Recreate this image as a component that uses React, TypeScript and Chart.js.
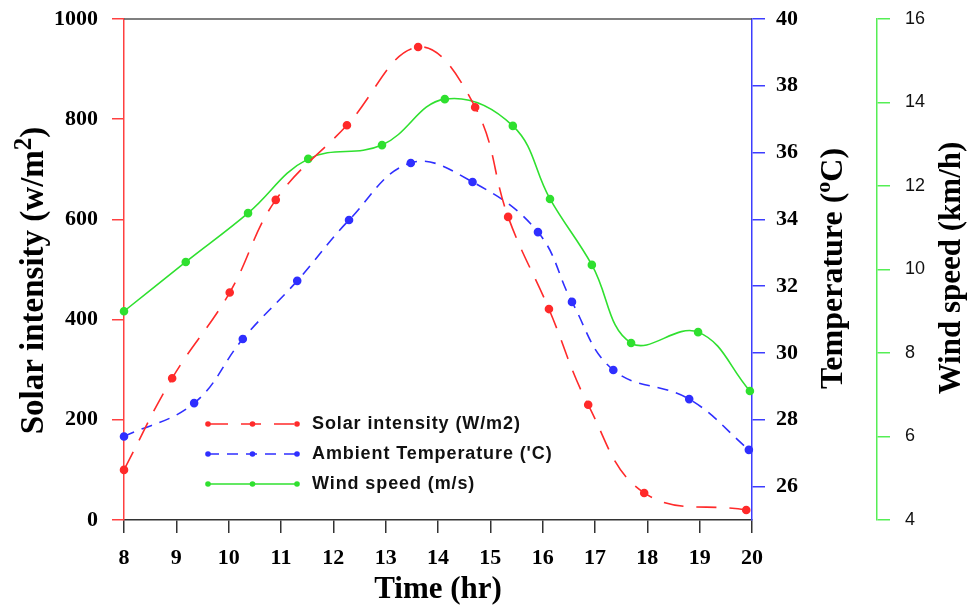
import React, { useEffect, useRef } from "react";
import { Chart, registerables } from "chart.js";

Chart.register(...registerables);

// ---------- data ----------
const solarTimes = [8, 8.92, 10.02, 10.9, 12.26, 13.62, 14.71, 15.34, 16.12, 16.87, 17.94, 19.89];
const solarValues = [100, 283, 454, 639, 788, 944, 824, 605, 421, 230, 54, 20];

const tempTimes = [8, 9.34, 10.27, 11.31, 12.3, 13.48, 14.66, 15.91, 16.56, 17.35, 18.8, 19.94];
const tempValues = [27.5, 28.5, 30.42, 32.16, 33.98, 35.69, 35.12, 33.62, 31.53, 29.49, 28.62, 27.1];

const windTimes = [8, 9.18, 10.37, 11.52, 12.93, 14.13, 15.43, 16.14, 16.94, 17.69, 18.97, 19.96];
const windValues = [9.0, 10.18, 11.35, 12.65, 12.98, 14.08, 13.44, 11.69, 10.11, 8.24, 8.5, 7.09];

const xTickValues = [8, 9, 10, 11, 12, 13, 14, 15, 16, 17, 18, 19, 20];
const solarTickValues = [0, 200, 400, 600, 800, 1000];
const tempTickValues = [26, 28, 30, 32, 34, 36, 38, 40];
const windTickValues = [4, 6, 8, 10, 12, 14, 16];

const legendLabels = ["Solar intensity (W/m2)", "Ambient Temperature ('C)", "Wind speed (m/s)"];

// ---------- styles ----------
const SERIF = "'Times New Roman', 'Liberation Serif', serif";
const SANS = "Arial, 'Liberation Sans', sans-serif";
const RED = "#ff2a2a";
const BLUE = "#2f2fff";
const GREEN = "#2fe02f";
const RED_AXIS = "#ff4040";
const BLUE_AXIS = "#3d3dff";
const GREEN_AXIS = "#55ee55";
const RED_DASH = [20, 13];
const BLUE_DASH = [11, 8];

type Part = { text: string; size: number; rise: number };

function drawParts(ctx: CanvasRenderingContext2D, parts: Part[], startX: number) {
  let x = startX;
  for (const p of parts) {
    ctx.font = `bold ${p.size}px ${SERIF}`;
    ctx.fillText(p.text, x, -p.rise);
    x += ctx.measureText(p.text).width;
  }
}
function partsWidth(ctx: CanvasRenderingContext2D, parts: Part[]) {
  let w = 0;
  for (const p of parts) {
    ctx.font = `bold ${p.size}px ${SERIF}`;
    w += ctx.measureText(p.text).width;
  }
  return w;
}

const overlayPlugin = {
  id: "overlay",
  afterDraw(chart: any) {
    const ctx: CanvasRenderingContext2D = chart.ctx;
    const { left, right, top, bottom } = chart.chartArea;
    const midY = (top + bottom) / 2;
    ctx.save();

    // top frame line
    ctx.strokeStyle = "#555";
    ctx.lineWidth = 1.5;
    ctx.beginPath();
    ctx.moveTo(left, top);
    ctx.lineTo(right, top);
    ctx.stroke();

    // axis titles
    ctx.fillStyle = "#000";
    ctx.textBaseline = "alphabetic";
    ctx.textAlign = "left";
    const vTitle = (parts: Part[], bx: number, cy: number) => {
      const w = partsWidth(ctx, parts);
      ctx.save();
      ctx.translate(bx, cy);
      ctx.rotate(-Math.PI / 2);
      drawParts(ctx, parts, -w / 2);
      ctx.restore();
    };
    vTitle(
      [
        { text: "Solar intensity (w/m", size: 33, rise: 0 },
        { text: "2", size: 25, rise: 12 },
        { text: ")", size: 33, rise: 0 },
      ],
      chart.scales.y.left + 43,
      midY + 11
    );
    vTitle(
      [
        { text: "Temperature (", size: 32, rise: 0 },
        { text: "o", size: 22, rise: 12 },
        { text: "C)", size: 32, rise: 0 },
      ],
      chart.scales.y1.left + 90,
      midY - 1
    );
    vTitle([{ text: "Wind speed (km/h)", size: 31, rise: 0 }], chart.scales.y2.left + 83, midY - 1.5);

    // x title
    const tParts = [{ text: "Time (hr)", size: 31, rise: 0 }];
    const tw = partsWidth(ctx, tParts);
    ctx.save();
    ctx.translate((left + right) / 2, 598);
    drawParts(ctx, tParts, -tw / 2);
    ctx.restore();

    // legend
    const colors = [RED, BLUE, GREEN];
    const dashes = [RED_DASH, BLUE_DASH, []];
    const rowY = [424, 454, 484];
    const x0 = 208;
    const x1 = 297;
    for (let i = 0; i < 3; i++) {
      const y = rowY[i];
      ctx.strokeStyle = colors[i];
      ctx.lineWidth = 1.6;
      ctx.setLineDash(dashes[i]);
      ctx.beginPath();
      ctx.moveTo(x0, y);
      ctx.lineTo(x1, y);
      ctx.stroke();
      ctx.setLineDash([]);
      ctx.fillStyle = colors[i];
      for (const px of [x0, (x0 + x1) / 2, x1]) {
        ctx.beginPath();
        ctx.arc(px, y, 2.8, 0, Math.PI * 2);
        ctx.fill();
      }
      ctx.fillStyle = "#111";
      ctx.font = `bold 18px ${SANS}`;
      (ctx as any).letterSpacing = "0.9px";
      ctx.textBaseline = "middle";
      ctx.textAlign = "left";
      ctx.fillText(legendLabels[i], 312, y);
      (ctx as any).letterSpacing = "0px";
    }
    ctx.restore();
  },
};

function series(times: number[], values: number[]) {
  return times.map((x, i) => ({ x, y: values[i] }));
}

function fixWidth(w: number) {
  return (s: any) => {
    s.width = w;
    s.paddingTop = 0;
    s.paddingBottom = 0;
  };
}

export default function App() {
  const ref = useRef<HTMLCanvasElement>(null);

  useEffect(() => {
    document.body.style.margin = "0";
    const serifTicks = { family: SERIF, size: 22, weight: "bold" as const };
    const plain = (v: any) => String(v);
    const chart = new Chart(ref.current as HTMLCanvasElement, {
      type: "line",
      data: {
        datasets: [
          {
            label: legendLabels[0],
            data: series(solarTimes, solarValues),
            yAxisID: "y",
            borderColor: RED,
            backgroundColor: RED,
            pointBackgroundColor: RED,
            pointBorderColor: RED,
            pointRadius: 3.5,
            borderWidth: 1.6,
            borderDash: RED_DASH,
            tension: 0.4,
            fill: false,
            clip: 10,
          },
          {
            label: legendLabels[1],
            data: series(tempTimes, tempValues),
            yAxisID: "y1",
            borderColor: BLUE,
            backgroundColor: BLUE,
            pointBackgroundColor: BLUE,
            pointBorderColor: BLUE,
            pointRadius: 3.5,
            borderWidth: 1.6,
            borderDash: BLUE_DASH,
            tension: 0.4,
            fill: false,
            clip: 10,
          },
          {
            label: legendLabels[2],
            data: series(windTimes, windValues),
            yAxisID: "y2",
            borderColor: GREEN,
            backgroundColor: GREEN,
            pointBackgroundColor: GREEN,
            pointBorderColor: GREEN,
            pointRadius: 3.5,
            borderWidth: 1.6,
            tension: 0.4,
            fill: false,
            clip: 10,
          },
        ],
      },
      options: {
        animation: false,
        responsive: false,
        devicePixelRatio: 1,
        layout: { padding: { top: 19, left: 0, right: 0, bottom: 0 } },
        plugins: { legend: { display: false }, tooltip: { enabled: false } },
        scales: {
          x: {
            type: "linear",
            position: "bottom",
            min: 8,
            max: 20,
            afterBuildTicks: (s: any) => {
              s.ticks = xTickValues.map((v) => ({ value: v }));
            },
            ticks: { color: "#000", font: serifTicks, padding: 12, maxRotation: 0, autoSkip: false, callback: plain },
            grid: { drawOnChartArea: false, drawTicks: true, tickLength: 13, color: "#333", lineWidth: 1.5 },
            border: { color: "#333", width: 1.5 },
            afterFit: (s: any) => {
              s.height = 90;
              s.paddingLeft = 0;
              s.paddingRight = 0;
            },
          },
          y: {
            type: "linear",
            position: "left",
            min: 0,
            max: 1000,
            afterBuildTicks: (s: any) => {
              s.ticks = solarTickValues.map((v) => ({ value: v }));
            },
            ticks: { color: "#000", font: serifTicks, padding: 14, callback: plain },
            grid: { drawOnChartArea: false, drawTicks: true, tickLength: 12, color: RED_AXIS, lineWidth: 1.5 },
            border: { color: RED_AXIS, width: 1.5 },
            afterFit: fixWidth(124),
          },
          y1: {
            type: "linear",
            position: "right",
            weight: 0,
            min: 25,
            max: 40,
            afterBuildTicks: (s: any) => {
              s.ticks = tempTickValues.map((v) => ({ value: v }));
            },
            ticks: { color: "#000", font: serifTicks, padding: 11, callback: plain },
            grid: { drawOnChartArea: false, drawTicks: true, tickLength: 13, color: BLUE_AXIS, lineWidth: 1.5 },
            border: { color: BLUE_AXIS, width: 1.5 },
            afterFit: fixWidth(125),
          },
          y2: {
            type: "linear",
            position: "right",
            weight: 1,
            min: 4,
            max: 16,
            afterBuildTicks: (s: any) => {
              s.ticks = windTickValues.map((v) => ({ value: v }));
            },
            ticks: { color: "#111", font: { family: SANS, size: 18 }, padding: 15, callback: plain },
            grid: { drawOnChartArea: false, drawTicks: true, tickLength: 13, color: GREEN_AXIS, lineWidth: 1.5 },
            border: { color: GREEN_AXIS, width: 1.5 },
            afterFit: fixWidth(93),
          },
        },
      },
      plugins: [overlayPlugin],
    } as any);
    return () => chart.destroy();
  }, []);

  return (
    <div style={{ width: 970, height: 610 }}>
      <canvas ref={ref} width={970} height={610} style={{ display: "block", width: 970, height: 610 }} />
    </div>
  );
}
